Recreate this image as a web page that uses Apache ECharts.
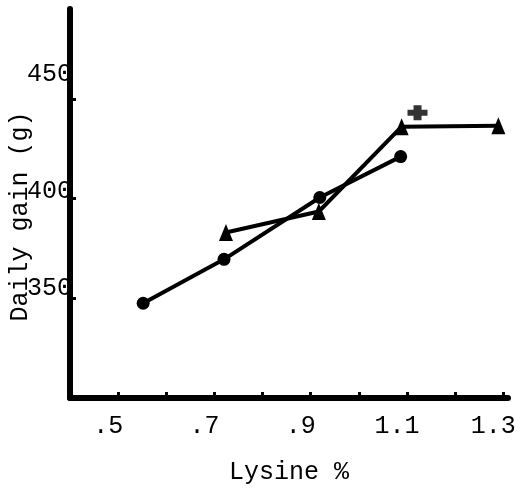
<!DOCTYPE html>
<html>
<head>
<meta charset="utf-8">
<script src="https://cdn.jsdelivr.net/npm/echarts@6/dist/echarts.min.js"></script>
<style>
  html, body { margin: 0; background: #fff; }
  #main { width: 520px; height: 490px; }
</style>
</head>
<body>
<div id="main"></div>
<script>
// values
const circleLysine = [0.552, 0.72, 0.919, 1.087];
const circleGain = [347.5, 369.5, 400.5, 421];
const triangleLysine = [0.724, 0.917, 1.089, 1.29];
const triangleGain = [383, 393.5, 436, 436.5];
const crossLysine = [1.122];
const crossGain = [443];

const xTickValues = [0.5, 0.7, 0.9, 1.1, 1.3];
const xTickLabels = ['.5', '.7', '.9', '1.1', '1.3'];
const yTickValues = [350, 400, 450];
const yTickLabels = ['350', '400', '450'];

const font = '"Liberation Mono", "Courier New", monospace';
const chart = echarts.init(document.getElementById('main'), null, { renderer: 'canvas' });

function pairs(xs, ys) {
  return xs.map((x, i) => [x, ys[i]]);
}

// typed labels sit a bit above their tick marks
const yLabelLift = { 350: 20, 400: 14, 450: 48 };
const rich = {};
yTickValues.forEach(v => {
  rich['t' + v] = {
    fontFamily: font,
    fontSize: 25,
    color: '#000',
    padding: [0, 0, yLabelLift[v], 0]
  };
});

const crossPath = 'path://M3,0 L7,0 L7,3 L10,3 L10,7 L7,7 L7,10 L3,10 L3,7 L0,7 L0,3 L3,3 Z';

const option = {
  animation: false,
  grid: { left: 70, right: 12, top: 9, bottom: 92, outerBoundsMode: 'none', containLabel: false },
  xAxis: {
    type: 'value',
    min: 0.4,
    max: 1.31,
    interval: 0.1,
    name: 'Lysine %',
    nameLocation: 'middle',
    nameGap: 62,
    nameMoveOverlap: false,
    nameTextStyle: { fontFamily: font, fontSize: 25, color: '#000' },
    axisLine: { lineStyle: { color: '#000', width: 6 } },
    axisTick: { inside: true, length: 6, lineStyle: { color: '#000', width: 3 } },
    axisLabel: {
      margin: 16,
      fontFamily: font,
      fontSize: 25,
      color: '#000',
      padding: [0, 20, 0, 0],
      showMaxLabel: false,
      formatter: v => {
        const i = xTickValues.findIndex(t => Math.abs(t - v) < 1e-6);
        return i >= 0 ? xTickLabels[i] : '';
      }
    },
    splitLine: { show: false }
  },
  yAxis: {
    type: 'value',
    min: 300,
    max: 495,
    interval: 50,
    name: 'Daily gain (g)',
    nameLocation: 'middle',
    nameRotate: 90,
    nameGap: 37,
    nameMoveOverlap: false,
    nameTextStyle: { fontFamily: font, fontSize: 25, color: '#000', padding: [0, 26, 0, 0] },
    axisLine: { lineStyle: { color: '#000', width: 6 } },
    axisTick: { inside: true, length: 6, lineStyle: { color: '#000', width: 3 } },
    axisLabel: {
      margin: -2,
      fontFamily: font,
      fontSize: 25,
      color: '#000',
      showMaxLabel: false,
      rich: rich,
      formatter: v => {
        const i = yTickValues.indexOf(v);
        return i >= 0 ? '{t' + v + '|' + yTickLabels[i] + '}' : '';
      }
    },
    splitLine: { show: false }
  },
  series: [
    {
      name: 'circle',
      type: 'line',
      data: pairs(circleLysine, circleGain),
      symbol: 'circle',
      symbolSize: 13,
      itemStyle: { color: '#000' },
      lineStyle: { color: '#000', width: 4 }
    },
    {
      name: 'triangle',
      type: 'line',
      data: pairs(triangleLysine, triangleGain),
      symbol: 'triangle',
      symbolSize: [14, 17],
      itemStyle: { color: '#000' },
      lineStyle: { color: '#000', width: 4 }
    },
    {
      name: 'cross',
      type: 'scatter',
      data: pairs(crossLysine, crossGain),
      symbol: crossPath,
      symbolSize: [20, 15],
      itemStyle: { color: '#000' }
    }
  ]
};

chart.setOption(option);
</script>
</body>
</html>
